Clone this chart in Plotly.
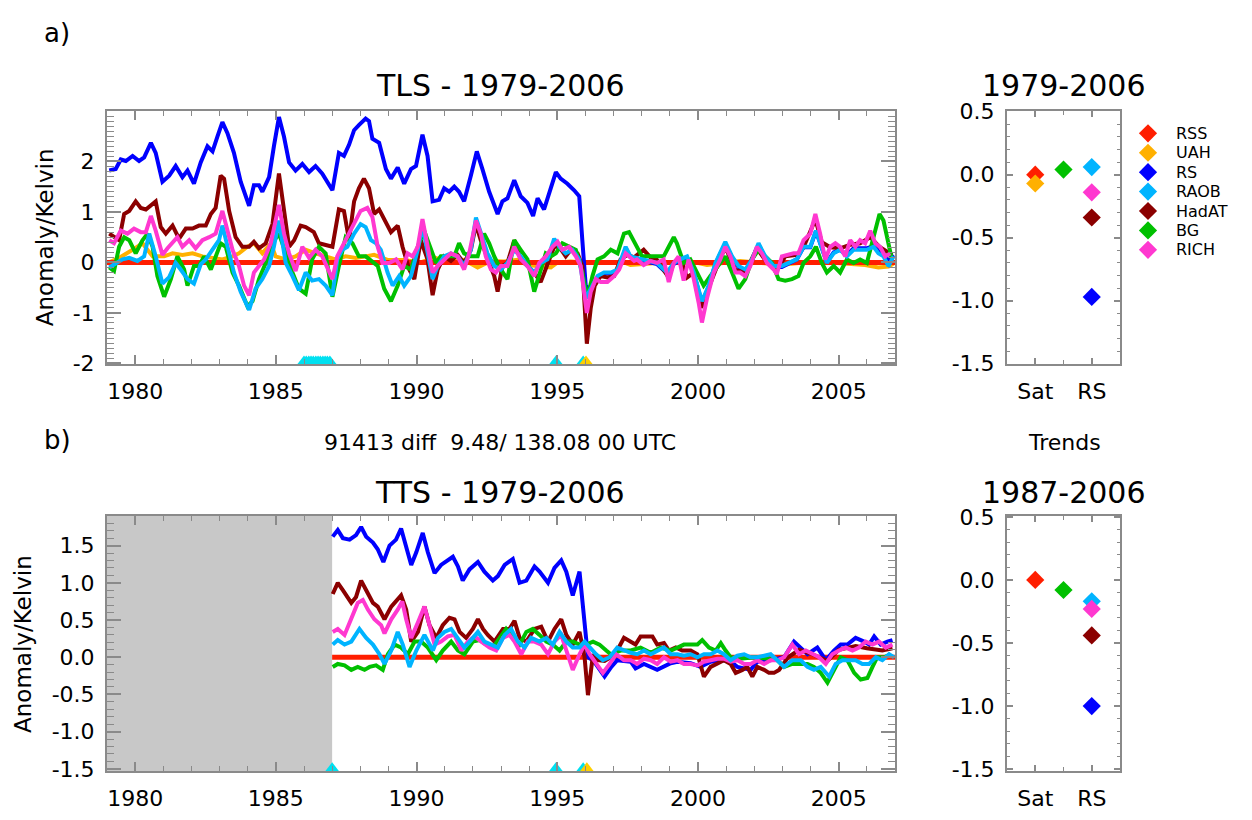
import plotly.graph_objects as go

W, H = 1252, 820
FONT = "DejaVu Sans"

# ================= DATA =================
# --- Panel a) TLS anomalies (difference to RSS), K ---
tls_rss_t = [1979.0, 2007.0]
tls_rss_v = [0.0, 0.0]

tls_uah_t = [1979.08, 1979.43, 1979.91, 1980.26, 1980.62, 1981.03, 1981.33, 1981.68, 1982.04, 1982.39,
             1982.75, 1983.10, 1983.46, 1983.69, 1983.99, 1984.22, 1984.52, 1984.82, 1984.99, 1985.35,
             1985.70, 1986.06, 1986.41, 1986.77, 1987.12, 1987.48, 1987.84, 1988.19, 1988.49, 1988.97,
             1989.56, 1990.15, 1990.63, 1991.10, 1991.69, 1992.17, 1992.64, 1993.11, 1993.58, 1993.94,
             1994.30, 1994.77, 1995.01, 1995.48, 1995.95, 1996.43, 1996.90, 1997.37, 1997.60, 1998.78,
             1999.73, 2000.32, 2001.50, 2002.09, 2002.92, 2003.75, 2004.70, 2005.94, 2006.41, 2006.77, 2006.95]
tls_uah_v = [0.00, 0.09, 0.25, 0.38, 0.12, 0.12, 0.18, 0.15, 0.18, 0.12,
             0.09, 0.06, 0.12, 0.18, 0.31, 0.38, 0.18, 0.38, 0.12, 0.06,
             0.12, 0.25, 0.18, 0.12, 0.06, 0.12, 0.09, 0.12, 0.15, 0.05,
             0.05, 0.00, 0.10, 0.00, 0.05, -0.10, 0.03, 0.02, 0.05, -0.05,
             -0.07, -0.10, 0.00, 0.02, 0.00, 0.00, 0.00, 0.00, -0.05, 0.00,
             0.02, -0.05, 0.03, 0.00, -0.05, 0.00, 0.00, -0.05, -0.10, -0.08, -0.02]

tls_rs_t = [1979.08, 1979.31, 1979.49, 1979.67, 1979.91, 1980.14, 1980.32, 1980.56, 1980.73, 1980.97,
            1981.21, 1981.44, 1981.68, 1981.86, 1982.09, 1982.33, 1982.57, 1982.75, 1982.92, 1983.10,
            1983.28, 1983.51, 1983.75, 1984.05, 1984.22, 1984.40, 1984.52, 1984.76, 1984.93, 1985.11,
            1985.29, 1985.47, 1985.70, 1985.94, 1986.18, 1986.41, 1986.65, 1987.01, 1987.24, 1987.42,
            1987.60, 1987.78, 1987.95, 1988.19, 1988.31, 1988.43, 1988.67, 1988.91, 1989.09, 1989.33,
            1989.56, 1989.80, 1989.98, 1990.21, 1990.39, 1990.57, 1990.80, 1990.98, 1991.16, 1991.34,
            1991.51, 1991.69, 1991.93, 1992.14, 1992.34, 1992.58, 1992.88, 1993.05, 1993.23, 1993.47,
            1993.70, 1993.94, 1994.14, 1994.30, 1994.53, 1994.77, 1994.95, 1995.12, 1995.36, 1995.60,
            1995.78, 1995.89, 1996.01, 1996.19, 1996.43, 1996.66, 1996.90, 1997.14, 1997.43, 1997.60,
            1998.07, 1998.54, 1998.90, 1999.14, 1999.37, 1999.61, 1999.85, 2000.14, 2000.38, 2000.62,
            2000.97, 2001.21, 2001.44, 2001.68, 2001.92, 2002.15, 2002.39, 2002.69, 2002.98, 2003.22,
            2003.51, 2003.75, 2003.99, 2004.19, 2004.40, 2004.58, 2004.82, 2005.05, 2005.29, 2005.53,
            2005.76, 2006.00, 2006.24, 2006.41, 2006.59, 2006.77, 2006.95]
tls_rs_v = [1.82, 1.85, 2.04, 2.01, 2.11, 2.01, 2.08, 2.37, 2.17, 1.60,
            1.72, 1.91, 1.69, 1.82, 1.56, 1.98, 2.30, 2.20, 2.49, 2.78,
            2.56, 2.17, 1.60, 1.12, 1.53, 1.53, 1.40, 1.69, 2.30, 2.88,
            2.49, 1.98, 1.82, 1.95, 1.79, 1.91, 1.76, 1.43, 2.17, 2.11,
            2.33, 2.62, 2.72, 2.85, 2.80, 2.45, 2.37, 1.85, 1.66, 1.88,
            1.56, 1.85, 1.91, 2.53, 2.11, 1.21, 1.24, 1.47, 1.40, 1.50,
            1.40, 1.21, 1.72, 2.20, 1.85, 1.40, 0.96, 1.21, 1.27, 1.63,
            1.31, 1.18, 0.92, 1.27, 1.05, 1.47, 1.79, 1.66, 1.56, 1.43,
            1.31, 0.44, -0.46, -0.55, -0.30, -0.22, -0.22, -0.16, 0.28, 0.10,
            0.04, -0.03, -0.22, -0.03, 0.04, 0.10, -0.22, -0.80, -0.48, -0.03,
            0.38, 0.10, -0.09, -0.16, 0.04, 0.35, 0.10, -0.09, -0.09, -0.03,
            0.06, 0.30, 0.30, 0.62, 0.30, 0.00, 0.20, 0.25, 0.15, 0.28,
            0.28, 0.28, 0.33, 0.22, 0.18, 0.05, 0.15]

tls_hadat_t = [1979.08, 1979.25, 1979.43, 1979.61, 1979.79, 1980.02, 1980.20, 1980.38, 1980.56, 1980.73,
               1980.91, 1981.09, 1981.33, 1981.56, 1981.80, 1982.04, 1982.27, 1982.51, 1982.69, 1982.86,
               1983.04, 1983.16, 1983.34, 1983.57, 1983.81, 1984.05, 1984.22, 1984.40, 1984.64, 1984.88,
               1985.11, 1985.29, 1985.47, 1985.65, 1985.88, 1986.06, 1986.35, 1986.53, 1986.77, 1987.01,
               1987.24, 1987.42, 1987.60, 1987.78, 1987.95, 1988.13, 1988.31, 1988.49, 1988.67, 1988.91,
               1989.09, 1989.33, 1989.50, 1989.74, 1989.92, 1990.15, 1990.39, 1990.57, 1990.75, 1990.98,
               1991.22, 1991.46, 1991.69, 1991.93, 1992.11, 1992.28, 1992.52, 1992.76, 1992.88, 1993.05,
               1993.23, 1993.47, 1993.70, 1993.94, 1994.18, 1994.41, 1994.65, 1994.89, 1995.07, 1995.30,
               1995.48, 1995.72, 1995.89, 1996.05, 1996.19, 1996.33, 1996.54, 1996.78, 1997.02, 1997.25,
               1997.49, 1997.73, 1998.07, 1998.31, 1998.54, 1998.96, 1999.14, 1999.37, 1999.61, 1999.85,
               2000.14, 2000.38, 2000.73, 2000.97, 2001.33, 2001.68, 2002.09, 2002.45, 2002.80, 2003.10,
               2003.51, 2003.75, 2004.17, 2004.40, 2004.70, 2005.05, 2005.41, 2005.76, 2006.12, 2006.47, 2006.90]
tls_hadat_v = [0.57, 0.50, 0.44, 0.96, 1.02, 1.21, 1.08, 1.05, 1.14, 1.21,
               0.70, 0.57, 0.73, 0.47, 0.67, 0.67, 0.73, 0.73, 0.96, 1.08,
               1.72, 1.66, 1.02, 0.50, 0.31, 0.31, 0.41, 0.28, 0.38, 0.76,
               1.76, 1.08, 0.31, 0.44, 0.73, 0.70, 0.60, 0.38, 0.34, 0.31,
               1.05, 1.02, 0.44, 1.21, 1.47, 1.66, 1.47, 0.96, 1.05, 0.79,
               0.60, 0.73, 0.31, -0.14, -0.33, 0.44, 0.06, -0.65, -0.14, 0.12,
               0.03, 0.15, -0.01, 0.25, 0.76, 0.44, 0.06, -0.27, -0.58, -0.07,
               -0.01, 0.44, 0.06, -0.07, -0.20, -0.39, -0.01, 0.31, 0.31, 0.12,
               0.25, 0.18, -0.07, -1.61, -0.90, -0.46, -0.27, -0.30, -0.27, 0.06,
               0.15, 0.10, 0.25, 0.10, 0.05, -0.30, 0.00, 0.10, -0.30, -0.20,
               -0.90, -0.50, 0.00, 0.30, -0.15, -0.20, 0.28, 0.00, -0.15, 0.12,
               0.15, 0.30, 0.85, 0.40, 0.30, 0.28, 0.35, 0.38, 0.50, 0.30, 0.15]

tls_bg_t = [1979.08, 1979.25, 1979.43, 1979.61, 1979.79, 1980.02, 1980.26, 1980.44, 1980.62, 1980.79,
            1981.03, 1981.27, 1981.50, 1981.74, 1981.86, 1982.09, 1982.27, 1982.45, 1982.69, 1982.86,
            1983.04, 1983.22, 1983.46, 1983.69, 1983.99, 1984.17, 1984.40, 1984.64, 1984.88, 1985.11,
            1985.35, 1985.59, 1985.82, 1986.06, 1986.29, 1986.53, 1986.77, 1987.01, 1987.24, 1987.48,
            1987.72, 1987.95, 1988.19, 1988.43, 1988.62, 1988.85, 1989.09, 1989.33, 1989.56, 1989.80,
            1990.04, 1990.27, 1990.51, 1990.69, 1990.86, 1991.10, 1991.34, 1991.51, 1991.69, 1991.93,
            1992.17, 1992.40, 1992.58, 1992.76, 1992.99, 1993.23, 1993.47, 1993.70, 1993.94, 1994.18,
            1994.41, 1994.59, 1994.77, 1994.95, 1995.18, 1995.42, 1995.66, 1995.89, 1996.07, 1996.25,
            1996.43, 1996.66, 1996.90, 1997.14, 1997.37, 1997.55, 1997.79, 1998.01, 1998.31, 1998.54,
            1998.78, 1998.96, 1999.14, 1999.25, 1999.49, 1999.73, 1999.96, 2000.20, 2000.44, 2000.73,
            2000.97, 2001.21, 2001.44, 2001.68, 2001.92, 2002.15, 2002.39, 2002.63, 2002.86, 2003.10,
            2003.34, 2003.57, 2003.75, 2003.99, 2004.19, 2004.40, 2004.58, 2004.82, 2005.05, 2005.29,
            2005.53, 2005.76, 2006.00, 2006.24, 2006.45, 2006.59, 2006.77, 2006.89]
tls_bg_v = [-0.10, -0.17, 0.31, 0.50, 0.44, 0.18, 0.44, 0.57, 0.31, -0.27,
            -0.68, -0.33, 0.12, -0.14, -0.46, -0.07, -0.07, 0.12, -0.14, 0.12,
            0.38, 0.31, -0.20, -0.46, -0.87, -0.77, -0.33, -0.01, 0.38, 0.57,
            0.18, -0.20, -0.52, -0.62, 0.06, 0.31, 0.18, -0.68, -0.07, 0.50,
            0.38, 0.12, 0.12, 0.00, -0.07, -0.52, -0.77, -0.46, -0.07, -0.14,
            0.31, 0.63, 0.25, -0.01, 0.12, 0.12, 0.12, 0.38, 0.18, 0.12,
            0.12, 0.57, 0.38, 0.12, -0.14, -0.33, 0.44, 0.25, 0.06, -0.58,
            -0.14, 0.18, 0.12, 0.18, 0.38, 0.31, 0.25, -0.20, -0.71, -0.27,
            0.06, 0.12, 0.25, 0.18, 0.57, 0.60, 0.35, 0.12, 0.12, 0.12,
            0.12, 0.31, 0.50, 0.38, -0.01, 0.06, -0.20, -0.46, -0.27, -0.07,
            0.12, -0.20, -0.52, -0.33, 0.06, 0.25, 0.12, -0.01, -0.33, -0.36,
            -0.33, -0.27, -0.01, 0.12, 0.31, -0.01, -0.20, -0.07, -0.20, 0.06,
            -0.01, 0.06, -0.01, 0.50, 0.96, 0.83, 0.38, 0.06]

tls_raob_t = [1979.08, 1979.31, 1979.55, 1979.79, 1980.08, 1980.32, 1980.50, 1980.73, 1980.97, 1981.21,
              1981.44, 1981.62, 1981.86, 1982.09, 1982.33, 1982.51, 1982.75, 1982.98, 1983.10, 1983.28,
              1983.51, 1983.75, 1984.05, 1984.28, 1984.52, 1984.76, 1984.93, 1985.11, 1985.35, 1985.59,
              1985.82, 1986.06, 1986.29, 1986.53, 1986.77, 1987.01, 1987.18, 1987.36, 1987.54, 1987.78,
              1988.01, 1988.19, 1988.38, 1988.56, 1988.73, 1988.97, 1989.15, 1989.38, 1989.56, 1989.80,
              1990.04, 1990.21, 1990.39, 1990.57, 1990.75, 1990.98, 1991.22, 1991.46, 1991.69, 1991.93,
              1992.11, 1992.28, 1992.52, 1992.76, 1992.99, 1993.23, 1993.47, 1993.70, 1993.94, 1994.18,
              1994.41, 1994.65, 1994.89, 1995.07, 1995.30, 1995.54, 1995.78, 1996.01, 1996.19, 1996.43,
              1996.66, 1996.90, 1997.14, 1997.43, 1997.60, 1998.07, 1998.54, 1998.90, 1999.14, 1999.37,
              1999.61, 1999.85, 2000.14, 2000.38, 2000.62, 2000.97, 2001.21, 2001.44, 2001.68, 2001.92,
              2002.15, 2002.39, 2002.69, 2002.98, 2003.22, 2003.51, 2003.75, 2003.99, 2004.19, 2004.40,
              2004.58, 2004.82, 2005.05, 2005.29, 2005.53, 2005.76, 2006.00, 2006.24, 2006.41, 2006.59,
              2006.77, 2006.95]
tls_raob_v = [-0.10, -0.01, 0.06, 0.09, 0.03, 0.12, 0.57, 0.12, -0.42, -0.29,
              -0.01, -0.14, -0.33, -0.42, -0.04, 0.06, 0.25, 0.44, 0.73, 0.31,
              -0.20, -0.58, -0.94, -0.52, -0.33, -0.07, 0.31, 0.83, -0.01, -0.27,
              -0.55, -0.20, -0.36, -0.33, -0.46, -0.65, 0.06, 0.25, 0.31, 0.57,
              0.76, 0.70, 0.44, 0.38, 0.25, -0.20, -0.46, -0.27, -0.46, -0.27,
              0.25, 0.73, 0.18, -0.33, -0.07, 0.12, 0.18, 0.12, -0.07, 0.25,
              0.89, 0.57, 0.18, -0.07, -0.14, -0.01, 0.25, 0.12, -0.07, -0.20,
              -0.01, 0.06, 0.47, 0.31, 0.18, 0.25, 0.06, -0.71, -0.52, -0.27,
              -0.20, -0.20, -0.14, 0.31, 0.12, 0.06, -0.01, -0.20, -0.01, 0.06,
              0.12, -0.20, -0.77, -0.46, -0.01, 0.41, 0.12, -0.07, -0.14, 0.06,
              0.38, 0.12, -0.07, -0.07, -0.01, 0.06, 0.31, 0.31, 0.63, 0.31,
              -0.01, 0.18, 0.25, 0.12, 0.25, 0.25, 0.25, 0.31, 0.18, 0.12,
              -0.07, 0.12]

tls_rich_t = [1979.08, 1979.25, 1979.49, 1979.73, 1979.96, 1980.20, 1980.38, 1980.56, 1980.73, 1980.97,
              1981.15, 1981.33, 1981.50, 1981.68, 1981.92, 1982.15, 1982.39, 1982.63, 1982.86, 1983.10,
              1983.28, 1983.46, 1983.69, 1983.87, 1984.05, 1984.22, 1984.40, 1984.58, 1984.82, 1984.99,
              1985.11, 1985.29, 1985.47, 1985.70, 1985.94, 1986.18, 1986.41, 1986.65, 1987.01, 1987.18,
              1987.36, 1987.54, 1987.78, 1988.01, 1988.25, 1988.43, 1988.62, 1988.79, 1989.03, 1989.27,
              1989.50, 1989.68, 1989.86, 1990.04, 1990.21, 1990.39, 1990.57, 1990.75, 1990.98, 1991.22,
              1991.46, 1991.69, 1991.87, 1992.11, 1992.28, 1992.46, 1992.64, 1992.82, 1992.99, 1993.23,
              1993.47, 1993.70, 1993.94, 1994.18, 1994.36, 1994.59, 1994.83, 1995.01, 1995.18, 1995.42,
              1995.66, 1995.83, 1996.05, 1996.19, 1996.37, 1996.54, 1996.78, 1997.02, 1997.20, 1997.43,
              1997.73, 1997.83, 1998.07, 1998.31, 1998.54, 1998.78, 1998.96, 1999.14, 1999.31, 1999.49,
              1999.67, 1999.85, 2000.02, 2000.14, 2000.32, 2000.56, 2000.79, 2000.97, 2001.15, 2001.33,
              2001.50, 2001.68, 2001.86, 2002.09, 2002.27, 2002.45, 2002.69, 2002.80, 2002.98, 2003.22,
              2003.40, 2003.57, 2003.75, 2003.99, 2004.17, 2004.34, 2004.52, 2004.70, 2004.88, 2005.05,
              2005.23, 2005.41, 2005.59, 2005.76, 2005.94, 2006.12, 2006.30, 2006.47, 2006.65, 2006.83]
tls_rich_v = [0.44, 0.38, 0.63, 0.57, 0.67, 0.60, 0.60, 0.92, 0.63, 0.15,
              0.28, 0.38, 0.50, 0.31, 0.44, 0.28, 0.44, 0.50, 0.57, 1.02,
              0.63, 0.25, -0.07, -0.46, -0.65, -0.20, -0.07, 0.06, 0.38, 0.83,
              1.14, 0.57, 0.18, -0.17, 0.31, 0.09, 0.25, 0.12, -0.33, 0.12,
              0.31, 0.50, 0.76, 1.02, 1.08, 0.90, 0.31, -0.01, -0.01, 0.06,
              -0.14, 0.18, 0.12, 0.31, 0.86, 0.31, -0.20, -0.07, 0.06, 0.18,
              0.12, -0.14, 0.18, 0.83, 0.57, 0.12, -0.14, -0.20, -0.07, -0.07,
              0.31, 0.06, -0.07, -0.27, -0.01, 0.12, 0.31, 0.41, 0.25, 0.31,
              0.12, -0.07, -1.00, -0.58, -0.33, -0.39, -0.39, -0.27, -0.14, 0.18,
              0.03, 0.06, -0.05, 0.03, -0.01, 0.06, -0.39, -0.01, 0.12, -0.36,
              0.06, -0.33, -0.79, -1.19, -0.71, -0.20, 0.06, 0.31, 0.12, -0.20,
              -0.20, -0.27, -0.07, 0.31, 0.18, -0.01, -0.14, -0.23, 0.12, 0.15,
              0.18, 0.18, 0.44, 0.57, 0.96, 0.57, 0.06, 0.31, 0.38, 0.31,
              0.12, 0.44, 0.31, 0.44, 0.38, 0.63, 0.38, 0.31, 0.12, 0.18]

# break-point markers (triangles on the lower axis)
tls_break_raob = [1986.00, 1986.08, 1986.17, 1986.25, 1986.33, 1986.42, 1986.50, 1986.58, 1986.67,
                  1986.75, 1986.83, 1986.92, 1994.95, 1995.92]
tls_break_uah = [1996.02]

# --- Panel b) TTS anomalies ---
tts_data_start = 1987.0
tts_rss_t = [1987.0, 2007.0]
tts_rss_v = [0.0, 0.0]

tts_rs_t = [1987.02, 1987.20, 1987.38, 1987.62, 1987.85, 1988.03, 1988.21, 1988.45, 1988.62, 1988.82,
            1989.04, 1989.27, 1989.45, 1989.63, 1989.81, 1989.99, 1990.22, 1990.40, 1990.64, 1990.87,
            1991.11, 1991.29, 1991.47, 1991.64, 1991.88, 1992.18, 1992.41, 1992.71, 1992.89, 1993.13,
            1993.42, 1993.66, 1993.90, 1994.19, 1994.37, 1994.67, 1994.90, 1995.14, 1995.32, 1995.55,
            1995.79, 1995.91, 1996.09, 1996.27, 1996.44, 1996.68, 1996.92, 1997.13, 1997.61, 1997.78,
            1998.08, 1998.55, 1999.03, 1999.27, 1999.74, 2000.09, 2000.45, 2000.92, 2001.16, 2001.40,
            2001.87, 2002.11, 2002.58, 2003.06, 2003.41, 2003.65, 2003.89, 2004.24, 2004.54, 2004.83,
            2005.07, 2005.31, 2005.60, 2005.90, 2006.08, 2006.26, 2006.49, 2006.73, 2006.91]
tts_rs_v = [1.62, 1.71, 1.60, 1.58, 1.64, 1.75, 1.62, 1.54, 1.45, 1.28,
            1.50, 1.58, 1.73, 1.50, 1.24, 1.41, 1.67, 1.41, 1.13, 1.24,
            1.30, 1.35, 1.22, 1.03, 1.18, 1.28, 1.15, 1.03, 1.09, 1.24,
            1.32, 1.00, 1.03, 1.22, 1.15, 1.00, 1.20, 1.30, 1.15, 0.83,
            1.15, 0.73, 0.00, -0.04, -0.13, -0.26, -0.13, -0.04, -0.06, -0.15,
            -0.09, -0.17, -0.08, -0.06, -0.08, -0.13, -0.06, -0.04, -0.06, -0.13,
            -0.17, -0.06, -0.04, 0.00, 0.21, 0.13, 0.04, 0.13, -0.04, 0.09,
            0.17, 0.17, 0.26, 0.21, 0.17, 0.28, 0.17, 0.21, 0.23]

tts_hadat_t = [1987.02, 1987.20, 1987.38, 1987.68, 1987.85, 1988.03, 1988.21, 1988.45, 1988.62, 1988.86,
               1989.10, 1989.33, 1989.45, 1989.63, 1989.81, 1990.05, 1990.28, 1990.46, 1990.70, 1990.93,
               1991.17, 1991.35, 1991.53, 1991.76, 1992.00, 1992.18, 1992.36, 1992.53, 1992.77, 1993.07,
               1993.30, 1993.48, 1993.66, 1993.90, 1994.19, 1994.43, 1994.67, 1994.90, 1995.14, 1995.32,
               1995.55, 1995.79, 1995.97, 1996.09, 1996.27, 1996.44, 1996.68, 1996.90, 1997.13, 1997.37,
               1997.61, 1997.78, 1997.96, 1998.20, 1998.38, 1998.55, 1998.79, 1998.97, 1999.21, 1999.44,
               1999.74, 1999.98, 2000.21, 2000.45, 2000.69, 2000.92, 2001.16, 2001.34, 2001.58, 2001.75,
               2001.93, 2002.11, 2002.35, 2002.52, 2002.70, 2002.88, 2003.20, 2003.60, 2004.00, 2004.60,
               2005.00, 2005.60, 2006.00, 2006.55, 2006.91]
tts_hadat_v = [0.85, 1.00, 0.90, 0.73, 0.81, 1.03, 0.90, 0.73, 0.68, 0.51,
               0.68, 0.77, 0.83, 0.64, 0.21, 0.34, 0.68, 0.43, 0.26, 0.43,
               0.53, 0.51, 0.34, 0.26, 0.38, 0.51, 0.38, 0.30, 0.21, 0.38,
               0.38, 0.49, 0.26, 0.21, 0.38, 0.41, 0.21, 0.38, 0.51, 0.30,
               0.17, 0.34, 0.00, -0.51, 0.04, -0.04, -0.05, 0.00, 0.09, 0.26,
               0.21, 0.17, 0.28, 0.28, 0.28, 0.17, 0.19, 0.09, 0.13, 0.09,
               0.09, 0.04, -0.26, -0.13, -0.09, -0.04, -0.09, -0.21, -0.17, -0.13,
               -0.26, -0.13, -0.17, -0.21, -0.21, -0.17, 0.00, 0.10, 0.05, -0.05,
               0.10, 0.15, 0.12, 0.09, 0.12]

tts_bg_t = [1987.02, 1987.20, 1987.44, 1987.68, 1987.91, 1988.15, 1988.33, 1988.56, 1988.80, 1988.98,
            1989.22, 1989.45, 1989.69, 1989.93, 1990.16, 1990.40, 1990.70, 1990.93, 1991.23, 1991.47,
            1991.70, 1992.00, 1992.24, 1992.47, 1992.71, 1992.95, 1993.18, 1993.42, 1993.66, 1993.90,
            1994.13, 1994.37, 1994.61, 1994.84, 1995.08, 1995.32, 1995.55, 1995.79, 1996.03, 1996.27,
            1996.50, 1996.74, 1996.90, 1997.25, 1997.61, 1997.96, 1998.32, 1998.67, 1999.03, 1999.27,
            1999.50, 1999.74, 1999.98, 2000.15, 2000.39, 2000.63, 2000.81, 2000.98, 2001.16, 2001.50,
            2002.00, 2002.50, 2002.82, 2003.06, 2003.35, 2003.65, 2003.89, 2004.12, 2004.36, 2004.60,
            2004.83, 2005.07, 2005.31, 2005.55, 2005.78, 2006.02, 2006.20, 2006.37, 2006.61, 2006.85]
tts_bg_v = [-0.13, -0.09, -0.11, -0.17, -0.13, -0.17, -0.13, -0.11, -0.17, 0.04,
            0.17, 0.13, 0.04, 0.21, 0.21, 0.13, -0.04, 0.09, 0.21, 0.09,
            0.04, 0.21, 0.23, 0.17, 0.13, 0.26, 0.38, 0.26, 0.17, 0.34,
            0.38, 0.30, 0.21, 0.17, 0.09, 0.21, 0.21, 0.17, 0.17, 0.21,
            0.17, 0.09, 0.04, 0.09, 0.09, 0.13, 0.06, 0.13, 0.09, 0.13,
            0.17, 0.17, 0.17, 0.23, 0.13, 0.09, 0.19, 0.09, 0.00, -0.02,
            0.00, -0.02, -0.04, -0.13, -0.09, -0.09, -0.09, -0.13, -0.21, -0.34,
            -0.17, 0.00, -0.04, -0.21, -0.30, -0.28, -0.13, 0.00, 0.00, 0.04]

tts_rich_t = [1987.02, 1987.20, 1987.44, 1987.68, 1987.91, 1988.09, 1988.27, 1988.50, 1988.74, 1988.86,
              1989.10, 1989.33, 1989.49, 1989.63, 1989.81, 1990.05, 1990.28, 1990.46, 1990.64, 1990.87,
              1991.11, 1991.35, 1991.59, 1991.82, 1992.06, 1992.30, 1992.59, 1992.83, 1993.07, 1993.30,
              1993.48, 1993.72, 1993.95, 1994.19, 1994.43, 1994.67, 1994.90, 1995.14, 1995.32, 1995.55,
              1995.79, 1995.97, 1996.15, 1996.38, 1996.62, 1996.86, 1997.09, 1997.37, 1997.61, 1997.84,
              1998.08, 1998.32, 1998.55, 1998.79, 1999.03, 1999.27, 1999.50, 1999.74, 1999.98, 2000.21,
              2000.45, 2000.69, 2000.92, 2001.16, 2001.40, 2001.64, 2001.87, 2002.11, 2002.35, 2002.58,
              2002.82, 2003.06, 2003.35, 2003.59, 2003.83, 2004.06, 2004.30, 2004.54, 2004.77, 2005.01,
              2005.25, 2005.49, 2005.72, 2005.96, 2006.20, 2006.43, 2006.67, 2006.91]
tts_rich_v = [0.34, 0.38, 0.30, 0.51, 0.73, 0.77, 0.64, 0.51, 0.43, 0.32,
              0.51, 0.64, 0.75, 0.51, 0.26, 0.47, 0.68, 0.43, 0.17, 0.21,
              0.28, 0.30, 0.09, 0.21, 0.28, 0.21, 0.13, 0.09, 0.26, 0.30,
              0.21, 0.04, 0.21, 0.21, 0.17, 0.04, 0.21, 0.30, 0.09, -0.17,
              0.04, 0.17, 0.04, -0.09, -0.21, -0.09, 0.04, -0.04, -0.04, -0.09,
              -0.02, -0.04, -0.09, 0.00, -0.06, -0.04, -0.09, -0.09, -0.11, -0.06,
              -0.04, -0.02, -0.02, -0.06, -0.04, -0.09, -0.09, -0.04, -0.09, -0.04,
              -0.04, 0.00, 0.17, 0.04, 0.09, 0.04, 0.00, -0.09, 0.04, 0.09,
              0.13, 0.09, 0.13, 0.21, 0.17, 0.21, 0.13, 0.17]

tts_raob_t = [1987.02, 1987.20, 1987.44, 1987.68, 1987.97, 1988.21, 1988.45, 1988.68, 1988.86, 1989.10,
              1989.33, 1989.51, 1989.75, 1989.99, 1990.28, 1990.46, 1990.58, 1990.76, 1990.99, 1991.23,
              1991.47, 1991.70, 1991.94, 1992.18, 1992.41, 1992.65, 1992.89, 1993.13, 1993.36, 1993.60,
              1993.84, 1994.07, 1994.37, 1994.61, 1994.84, 1995.08, 1995.32, 1995.55, 1995.79, 1995.97,
              1996.15, 1996.38, 1996.62, 1996.86, 1997.13, 1997.37, 1997.61, 1997.84, 1998.08, 1998.32,
              1998.55, 1998.79, 1999.03, 1999.27, 1999.50, 1999.74, 1999.98, 2000.21, 2000.45, 2000.69,
              2000.92, 2001.16, 2001.40, 2001.64, 2001.87, 2002.11, 2002.35, 2002.58, 2002.82, 2003.06,
              2003.35, 2003.65, 2003.89, 2004.12, 2004.36, 2004.66, 2004.89, 2005.13, 2005.37, 2005.60,
              2005.84, 2006.08, 2006.32, 2006.55, 2006.79, 2006.97]
tts_raob_v = [0.17, 0.23, 0.17, 0.21, 0.38, 0.26, 0.17, 0.04, -0.09, 0.09,
              0.34, 0.17, -0.13, 0.09, 0.30, 0.17, 0.09, 0.26, 0.34, 0.38,
              0.26, 0.13, 0.23, 0.34, 0.21, 0.17, 0.13, 0.30, 0.38, 0.21,
              0.13, 0.26, 0.21, 0.26, 0.17, 0.34, 0.21, 0.13, 0.13, 0.21,
              0.13, 0.04, -0.04, 0.00, 0.13, 0.09, 0.06, 0.04, 0.09, 0.04,
              0.09, 0.13, 0.04, 0.04, 0.02, 0.04, 0.00, 0.04, 0.04, 0.09,
              0.04, -0.04, 0.02, 0.04, 0.00, 0.00, 0.02, 0.04, -0.04, -0.13,
              -0.04, -0.04, -0.13, -0.17, -0.13, -0.26, -0.09, -0.04, -0.04, -0.04,
              -0.09, -0.09, 0.00, -0.04, 0.04, 0.00]

tts_break_raob = [1987.00, 1994.95, 1995.92]
tts_break_uah = [1996.05]

# --- Trends (K / decade) ---
trend_cats = ["Sat", "RS"]
trend_cat_pos = [1, 3]
trend_names = ["RSS", "UAH", "RS", "RAOB", "HadAT", "BG", "RICH"]
trend_pos = [1, 1, 3, 3, 3, 2, 3]
trend_tls_val = [0.00, -0.07, -0.97, 0.06, -0.34, 0.04, -0.14]
trend_tts_names = ["RSS", "RS", "RAOB", "HadAT", "BG", "RICH"]
trend_tts_pos = [1, 3, 3, 3, 2, 3]
trend_tts_val = [0.00, -1.00, -0.17, -0.44, -0.08, -0.23]

year_ticks = [1980, 1985, 1990, 1995, 2000, 2005]
year_labels = ["1980", "1985", "1990", "1995", "2000", "2005"]
tls_yticks = [2, 1, 0, -1, -2]
tls_ylabels = ["2", "1", "0", "-1", "-2"]
tts_yticks = [1.5, 1.0, 0.5, 0.0, -0.5, -1.0, -1.5]
tts_ylabels = ["1.5", "1.0", "0.5", "0.0", "-0.5", "-1.0", "-1.5"]
trend_yticks = [0.5, 0.0, -0.5, -1.0, -1.5]
trend_ylabels = ["0.5", "0.0", "-0.5", "-1.0", "-1.5"]

# ================= STYLE =================
COLORS = {"RSS": "#ff1e00", "UAH": "#ffb000", "RS": "#0000ff", "RAOB": "#00b4ff",
          "HadAT": "#8b0000", "BG": "#00c000", "RICH": "#ff38d0"}
TRI_CYAN = "#00e0f0"
TRI_GOLD = "#ffd000"
AXC = "#8a8a8a"
GRAY_BOX = "#c8c8c8"
LW = 4

# pixel boxes of the panels (left, right, top, bottom)
TL = (107, 895, 102, 363)
TR = (1007, 1120, 102, 363)
BL = (107, 895, 519, 782)
BR = (1007, 1120, 519, 782)
LEG = (1148, 1250, 125, 245)   # legend: marker column x, right edge, first/last row centre


def dx(b):
    return [b[0] / W, b[1] / W]


def dy(b):
    return [1 - b[3] / H, 1 - b[2] / H]


time_range = [1979.0, 2007.0]
tls_range = [-2.02, 3.0]
tts_range = [-1.53, 1.90]
tr_tls_range = [-1.505, 0.505]
tr_tts_range = [-1.515, 0.508]
trend_x_range = [0, 4]

fig = go.Figure()


def line(t, v, name, xa, ya, width=LW):
    fig.add_trace(go.Scatter(x=t, y=v, mode="lines", name=name, showlegend=False,
                             line=dict(color=COLORS[name], width=width),
                             xaxis=xa, yaxis=ya, hoverinfo="skip"))


# top panel lines
line(tls_uah_t, tls_uah_v, "UAH", "x", "y")
line(tls_rss_t, tls_rss_v, "RSS", "x", "y", width=5)
line(tls_rs_t, tls_rs_v, "RS", "x", "y")
line(tls_hadat_t, tls_hadat_v, "HadAT", "x", "y")
line(tls_bg_t, tls_bg_v, "BG", "x", "y")
line(tls_raob_t, tls_raob_v, "RAOB", "x", "y")
line(tls_rich_t, tls_rich_v, "RICH", "x", "y")

# bottom panel lines
line(tts_rss_t, tts_rss_v, "RSS", "x3", "y3", width=5)
line(tts_rs_t, tts_rs_v, "RS", "x3", "y3")
line(tts_hadat_t, tts_hadat_v, "HadAT", "x3", "y3")
line(tts_bg_t, tts_bg_v, "BG", "x3", "y3")
line(tts_rich_t, tts_rich_v, "RICH", "x3", "y3")
line(tts_raob_t, tts_raob_v, "RAOB", "x3", "y3")


def triangles(dates, color, xa, ya, yr, box):
    # sit on the lower frame line: the marker base lies r/2 below its centre
    px = 3.0
    ybase = yr[0] + (yr[1] - yr[0]) * px / (box[3] - box[2])
    fig.add_trace(go.Scatter(x=dates, y=[ybase] * len(dates), mode="markers", showlegend=False,
                             marker=dict(symbol="triangle-up", size=12, color=color, line=dict(width=0)),
                             xaxis=xa, yaxis=ya, hoverinfo="skip", cliponaxis=False))


triangles(tls_break_raob, TRI_CYAN, "x", "y", tls_range, TL)
triangles(tls_break_uah, TRI_GOLD, "x", "y", tls_range, TL)
triangles(tts_break_raob, TRI_CYAN, "x3", "y3", tts_range, BL)
triangles(tts_break_uah, TRI_GOLD, "x3", "y3", tts_range, BL)

# trend panels
for n, p, v in zip(trend_names, trend_pos, trend_tls_val):
    fig.add_trace(go.Scatter(x=[p], y=[v], mode="markers", name=n, showlegend=False,
                             marker=dict(symbol="diamond", size=14, color=COLORS[n], line=dict(width=0)),
                             xaxis="x2", yaxis="y2", hoverinfo="skip"))
for n, p, v in zip(trend_tts_names, trend_tts_pos, trend_tts_val):
    fig.add_trace(go.Scatter(x=[p], y=[v], mode="markers", name=n, showlegend=False,
                             marker=dict(symbol="diamond", size=14, color=COLORS[n], line=dict(width=0)),
                             xaxis="x4", yaxis="y4", hoverinfo="skip"))

# legend (IDL-style key): one row per data set, on a hidden helper axis
leg_rows = list(range(len(trend_names)))
fig.add_trace(go.Scatter(x=[0] * len(trend_names), y=leg_rows, mode="markers", showlegend=False,
                         marker=dict(symbol="diamond", size=14, color=[COLORS[n] for n in trend_names],
                                     line=dict(width=0)),
                         xaxis="x5", yaxis="y5", hoverinfo="skip", cliponaxis=False))
for n, r in zip(trend_names, leg_rows):
    fig.add_annotation(text=n, x=0, y=r, xref="x5", yref="y5", xanchor="left", yanchor="middle",
                       xshift=27, showarrow=False, borderpad=0,
                       font=dict(family=FONT, size=16, color="black"))

tickfont = dict(family=FONT, size=22, color="black")


def time_axis(anchor, box):
    return dict(domain=dx(box), anchor=anchor, range=time_range, tickmode="array",
                tickvals=year_ticks, ticktext=year_labels, ticks="inside", ticklen=9, tickwidth=1.5,
                tickcolor=AXC, showline=True, linecolor=AXC, linewidth=2, mirror="ticks",
                showgrid=False, zeroline=False, tickfont=tickfont, ticklabelstandoff=6,
                minor=dict(tickmode="linear", tick0=1979, dtick=1, ticks="inside", ticklen=5,
                           tickcolor=AXC, tickwidth=1, showgrid=False))


def val_axis(anchor, box, rng, tv, tt, major_len, minor_len):
    return dict(domain=dy(box), anchor=anchor, range=rng, tickmode="array", tickvals=tv, ticktext=tt,
                ticks="inside", ticklen=major_len, tickwidth=1.5, tickcolor=AXC, showline=True,
                linecolor=AXC, linewidth=2, mirror="ticks", showgrid=False, zeroline=False,
                tickfont=tickfont, ticklabelstandoff=6,
                minor=dict(tickmode="linear", tick0=0, dtick=0.1, ticks="inside", ticklen=minor_len,
                           tickcolor=AXC, tickwidth=1, showgrid=False))


def trend_x_axis(anchor, box):
    return dict(domain=dx(box), anchor=anchor, range=trend_x_range, tickmode="array",
                tickvals=trend_cat_pos, ticktext=trend_cats, ticks="inside", ticklen=6, tickwidth=1.5,
                tickcolor=AXC, showline=True, linecolor=AXC, linewidth=2, mirror="ticks",
                showgrid=False, zeroline=False, tickfont=tickfont, ticklabelstandoff=6,
                minor=dict(tickmode="linear", tick0=0, dtick=1, ticks="inside", ticklen=4,
                           tickcolor=AXC, tickwidth=1, showgrid=False))


hidden = dict(visible=False, showgrid=False, zeroline=False, fixedrange=True)

fig.update_layout(
    width=W, height=H, margin=dict(l=0, r=0, t=0, b=0),
    paper_bgcolor="white", plot_bgcolor="white",
    font=dict(family=FONT, size=22, color="black"),
    showlegend=False,
    xaxis=time_axis("y", TL),
    yaxis=val_axis("x", TL, tls_range, tls_yticks, tls_ylabels, 14, 7),
    xaxis2=trend_x_axis("y2", TR),
    yaxis2=val_axis("x2", TR, tr_tls_range, trend_yticks, trend_ylabels, 6, 3),
    xaxis3=time_axis("y3", BL),
    yaxis3=val_axis("x3", BL, tts_range, tts_yticks, tts_ylabels, 14, 7),
    xaxis4=trend_x_axis("y4", BR),
    yaxis4=val_axis("x4", BR, tr_tts_range, trend_yticks, trend_ylabels, 6, 3),
    xaxis5=dict(hidden, domain=dx(LEG), anchor="y5", range=[0, 1]),
    yaxis5=dict(hidden, domain=dy(LEG), anchor="x5", range=[len(trend_names) - 1, 0]),
)

# gray block: no TTS data before the series start
fig.add_shape(type="rect", xref="x3", yref="y3 domain", x0=time_range[0], x1=tts_data_start,
              y0=0, y1=1, fillcolor=GRAY_BOX, line=dict(width=0), layer="below")


def ann(text, x, y, size, angle=0):
    fig.add_annotation(text=text, x=x / W, y=1 - y / H, xref="paper", yref="paper",
                       xanchor="center", yanchor="middle", showarrow=False, textangle=angle,
                       font=dict(family=FONT, size=size, color="black"))


ann("a)", 57, 22, 26)
ann("b)", 57, 441, 26)
ann("TLS - 1979-2006", 500, 76, 30)
ann("1979-2006", 1064, 76, 30)
ann("91413 diff\u00a0 9.48/ 138.08 00 UTC", 500, 443, 22)
ann("Trends", 1064, 443, 22)
ann("TTS - 1979-2006", 500, 495, 30)
ann("1987-2006", 1064, 495, 30)
ann("Anomaly/Kelvin", 45, 232, 23, -90)
ann("Anomaly/Kelvin", 23, 651, 23, -90)

fig.write_html("out.html")
